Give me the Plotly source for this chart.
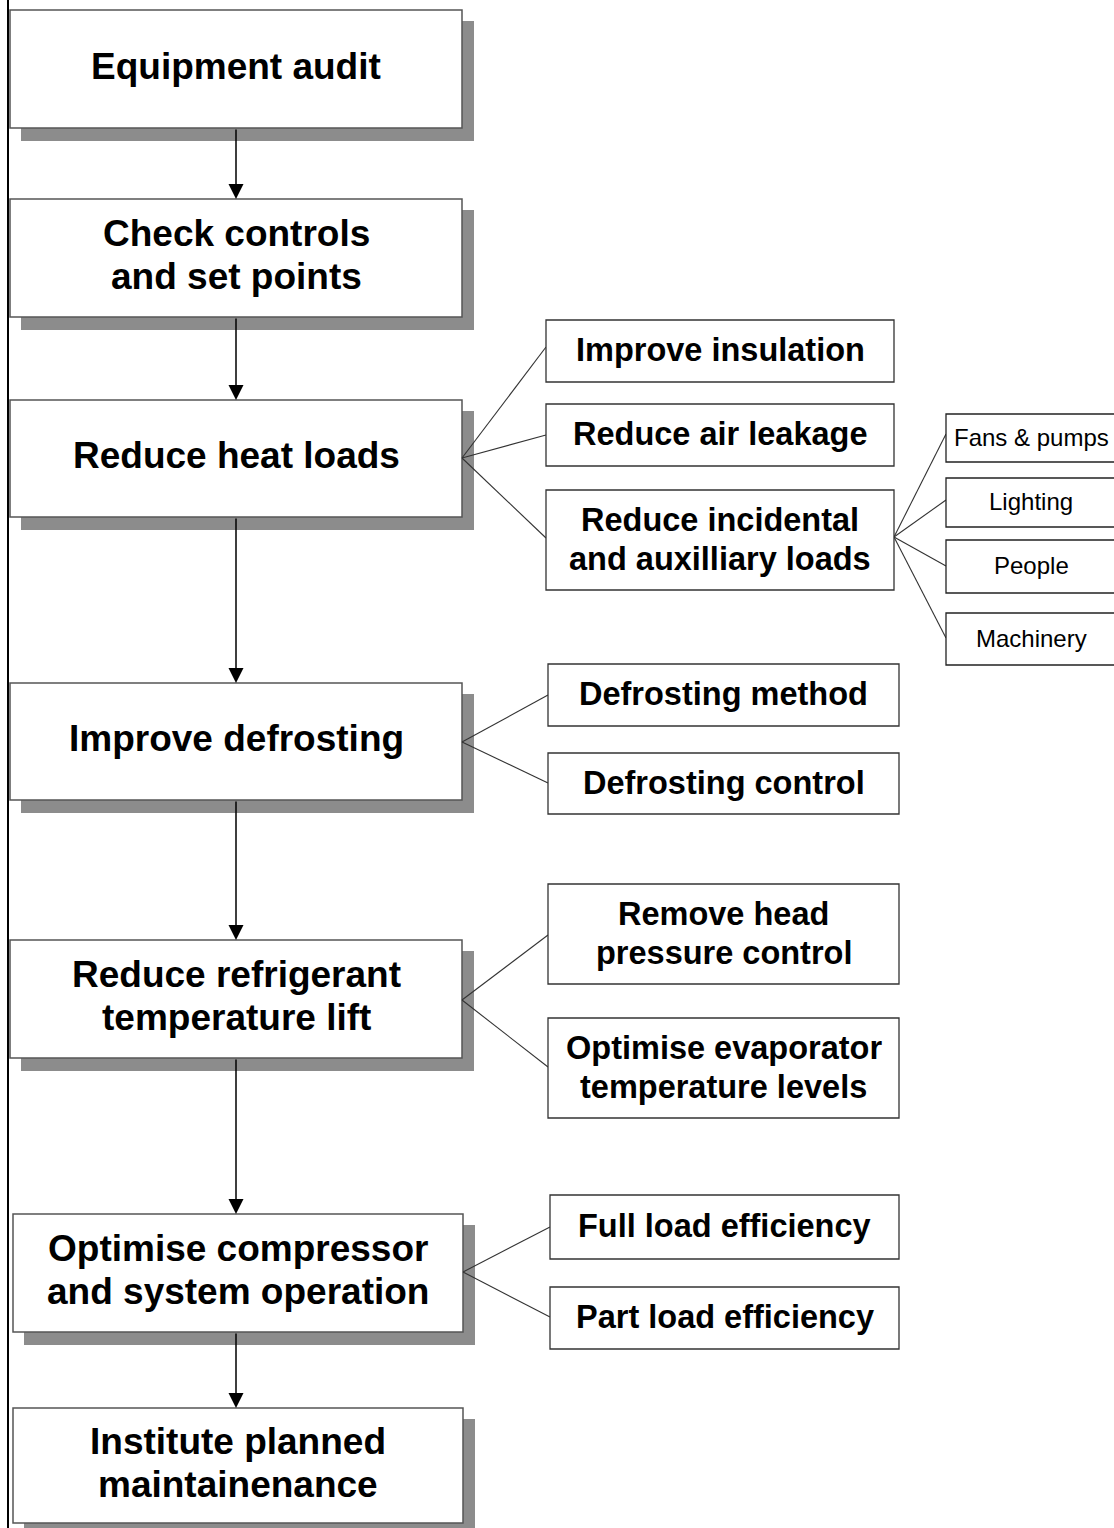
import plotly.graph_objects as go

# ---- data: labels ----
main_labels = [
    "Equipment audit",
    "Check controls\nand set points",
    "Reduce heat loads",
    "Improve defrosting",
    "Reduce refrigerant\ntemperature lift",
    "Optimise compressor\nand system operation",
    "Institute planned\nmaintainenance",
]
sub_labels = [
    "Improve insulation",
    "Reduce air leakage",
    "Reduce incidental\nand auxilliary loads",
    "Defrosting method",
    "Defrosting control",
    "Remove head\npressure control",
    "Optimise evaporator\ntemperature levels",
    "Full load efficiency",
    "Part load efficiency",
]
sub_parent = [2, 2, 2, 3, 3, 4, 4, 5, 5]
leaf_labels = ["Fans & pumps", "Lighting", "People", "Machinery"]
leaf_parent = 2  # index into sub_labels

# ---- layout geometry (pixels) ----
W, H = 1114, 1528
main_x = [(10, 462), (10, 462), (10, 462), (10, 462), (10, 462), (13, 463), (13, 463)]
main_y = [(10, 128), (199, 317), (400, 517), (683, 800), (940, 1058), (1214, 1332), (1408, 1523)]
sub_x = [(546, 894)] * 3 + [(548, 899)] * 4 + [(550, 899)] * 2
sub_y = [(320, 382), (404, 466), (490, 590), (664, 726), (753, 814),
         (884, 984), (1018, 1118), (1195, 1259), (1287, 1349)]
leaf_x = (946, 1116)
leaf_y = [(414, 462), (478, 527), (540, 593), (613, 665)]
main_pivot_y = [None, None, 458, 742, 1000, 1272, None]
sub_pivot_y = {2: 537}
sub_end_y = [347, 435, 538, 695, 783, 935, 1067, 1227, 1317]
leaf_end_y = [434, 500, 566, 638]

FONT = "Liberation Sans, Arial, sans-serif"
shapes = []
annotations = []


def add_text(label, cx, cy, size, spacing, bold=True):
    lines = label.split("\n")
    n = len(lines)
    for i, ln in enumerate(lines):
        y = cy + (i - (n - 1) / 2) * spacing
        annotations.append(dict(
            x=cx, y=y, xref="x", yref="y", showarrow=False,
            text=f"<b>{ln}</b>" if bold else ln,
            font=dict(family=FONT, size=size, color="black"),
            xanchor="center", yanchor="middle"))


# left page edge line
shapes.append(dict(type="line", xref="x", yref="y", x0=8, x1=8, y0=0, y1=H,
                   line=dict(color="black", width=2)))

# main boxes with shadows
for (x0, x1), (y0, y1) in zip(main_x, main_y):
    shapes.append(dict(type="rect", xref="x", yref="y", x0=x0 + 11, x1=x1 + 12,
                       y0=y0 + 11, y1=y1 + 13, fillcolor="#8c8c8c",
                       line=dict(width=0)))
for (x0, x1), (y0, y1) in zip(main_x, main_y):
    shapes.append(dict(type="rect", xref="x", yref="y", x0=x0, x1=x1, y0=y0, y1=y1,
                       fillcolor="white", line=dict(color="#555555", width=1.5)))

# connectors main -> sub
for j, p in enumerate(sub_parent):
    px = main_x[p][1]
    py = main_pivot_y[p]
    shapes.append(dict(type="line", xref="x", yref="y", x0=px, y0=py,
                       x1=sub_x[j][0], y1=sub_end_y[j],
                       line=dict(color="#333333", width=1.1)))

# connectors sub -> leaf
for k in range(len(leaf_labels)):
    shapes.append(dict(type="line", xref="x", yref="y", x0=sub_x[leaf_parent][1],
                       y0=sub_pivot_y[leaf_parent], x1=leaf_x[0], y1=leaf_end_y[k],
                       line=dict(color="#333333", width=1.1)))

# sub boxes
for (x0, x1), (y0, y1) in zip(sub_x, sub_y):
    shapes.append(dict(type="rect", xref="x", yref="y", x0=x0, x1=x1, y0=y0, y1=y1,
                       fillcolor="white", line=dict(color="#333333", width=1.3)))
# leaf boxes
for (y0, y1) in leaf_y:
    shapes.append(dict(type="rect", xref="x", yref="y", x0=leaf_x[0], x1=leaf_x[1],
                       y0=y0, y1=y1, fillcolor="white",
                       line=dict(color="#222222", width=1.3)))

# arrows between main boxes
cx_main = 236
for i in range(len(main_labels) - 1):
    annotations.append(dict(
        x=cx_main, y=main_y[i + 1][0], ax=cx_main, ay=main_y[i][1],
        xref="x", yref="y", axref="x", ayref="y", text="", showarrow=True,
        arrowhead=2, arrowsize=2, arrowwidth=1.5, arrowcolor="black", standoff=0))

# texts
for lab, (x0, x1), (y0, y1) in zip(main_labels, main_x, main_y):
    add_text(lab, (x0 + x1) / 2, (y0 + y1) / 2 - 3, 37, 43)
for lab, (x0, x1), (y0, y1) in zip(sub_labels, sub_x, sub_y):
    add_text(lab, (x0 + x1) / 2, (y0 + y1) / 2 - 1, 32.5, 39)
for lab, (y0, y1) in zip(leaf_labels, leaf_y):
    add_text(lab, 1031, (y0 + y1) / 2 - 1, 24, 28, bold=False)

fig = go.Figure()
fig.add_trace(go.Scatter(x=[0, W], y=[0, H], mode="markers",
                         marker=dict(opacity=0), hoverinfo="skip", showlegend=False))
fig.update_layout(
    width=W, height=H,
    margin=dict(l=0, r=0, t=0, b=0),
    paper_bgcolor="white", plot_bgcolor="white",
    xaxis=dict(range=[0, W], visible=False, fixedrange=True),
    yaxis=dict(range=[H, 0], visible=False, fixedrange=True),
    shapes=shapes, annotations=annotations, showlegend=False,
)
fig.write_html("out.html", config={"displayModeBar": False},
               post_script="document.body.style.margin='0';document.body.style.overflow='hidden';")
